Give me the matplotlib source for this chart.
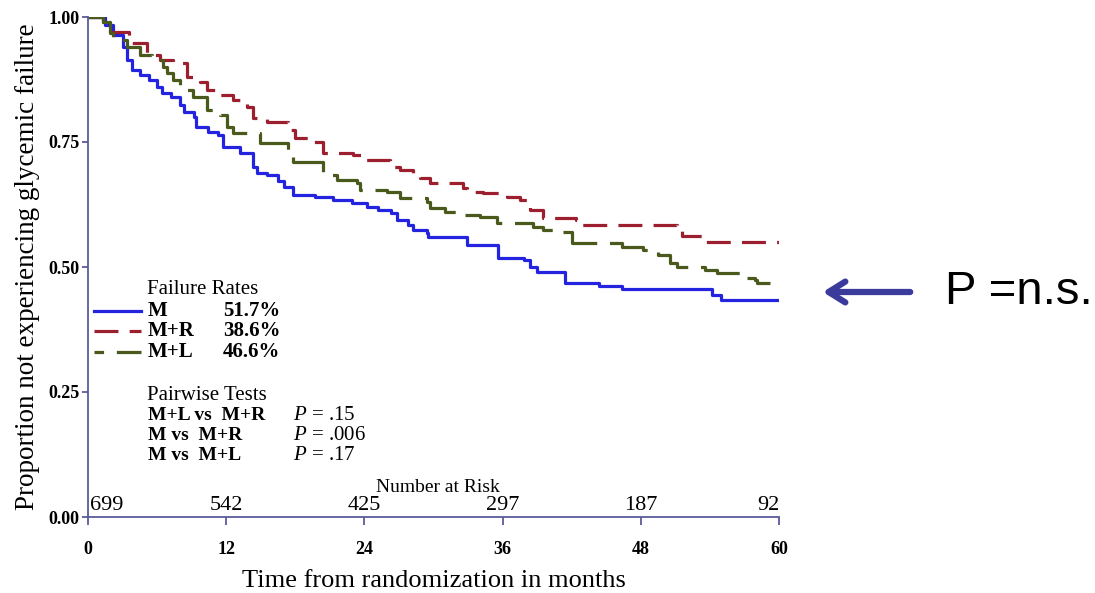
import matplotlib
matplotlib.use("Agg")
import matplotlib.pyplot as plt

plt.rcParams["mathtext.fontset"] = "custom"
plt.rcParams["mathtext.it"] = "Liberation Serif:italic"
plt.rcParams["mathtext.rm"] = "Liberation Serif"

# Kaplan-Meier step data (months, proportion)
m_t = [0, 1.5, 2.2, 3.0, 3.4, 3.8, 4.5, 5.3, 6.0, 6.4, 7.2, 8.0, 8.3, 9.2, 9.4, 10.4,
       11.3, 11.7, 13.2, 14.3, 14.7, 15.5, 16.5, 17.0, 17.8, 19.7, 21.3, 22.9, 24.2,
       25.2, 26.3, 26.8, 27.8, 28.2, 29.4, 29.5, 32.9, 35.6, 37.9, 38.4, 39.0, 41.4,
       44.4, 46.4, 54.2, 55.0, 60]
m_s = [1.0, 0.985, 0.965, 0.94, 0.915, 0.895, 0.885, 0.874, 0.86, 0.848, 0.84, 0.825,
       0.81, 0.80, 0.78, 0.77, 0.764, 0.74, 0.728, 0.70, 0.688, 0.684, 0.672, 0.66,
       0.644, 0.64, 0.634, 0.628, 0.62, 0.614, 0.608, 0.594, 0.585, 0.574, 0.568, 0.56,
       0.544, 0.518, 0.514, 0.50, 0.49, 0.468, 0.462, 0.456, 0.444, 0.434, 0.434]

mr_t = [0, 1.3, 1.9, 3.6, 5.1, 6.25, 7.4, 8.6, 9.7, 10.3, 11.5, 12.6, 13.8, 14.3, 15.5,
        17.4, 18.0, 19.1, 20.4, 23.0, 23.9, 26.2, 27.1, 28.2, 28.8, 29.7, 32.6, 32.9,
        34.3, 36.4, 37.5, 38.4, 39.5, 42.4, 42.5, 51.1, 51.6, 53.6, 60]
mr_s = [1.0, 0.99, 0.97, 0.948, 0.924, 0.914, 0.908, 0.88, 0.87, 0.854, 0.844, 0.834,
        0.82, 0.798, 0.79, 0.774, 0.758, 0.75, 0.728, 0.724, 0.714, 0.70, 0.694, 0.688,
        0.678, 0.668, 0.658, 0.65, 0.648, 0.64, 0.634, 0.614, 0.598, 0.594, 0.584, 0.574,
        0.562, 0.55, 0.55]

ml_t = [0, 1.3, 1.9, 2.2, 3.4, 4.5, 5.6, 6.5, 6.9, 7.4, 8.0, 9.1, 10.3, 11.5, 12.1, 12.6,
        14.9, 17.4, 17.8, 20.4, 21.6, 23.4, 23.6, 26.0, 27.1, 29.4, 29.7, 31.0, 32.0,
        34.0, 35.5, 38.6, 39.5, 41.2, 42.0, 46.4, 48.2, 49.5, 50.5, 51.1, 53.6, 54.6,
        56.6, 57.9, 58.1, 59.2]
ml_s = [1.0, 0.99, 0.968, 0.954, 0.94, 0.924, 0.914, 0.90, 0.888, 0.874, 0.854, 0.84,
        0.814, 0.804, 0.78, 0.768, 0.748, 0.724, 0.71, 0.684, 0.674, 0.668, 0.654, 0.65,
        0.638, 0.63, 0.618, 0.61, 0.604, 0.60, 0.588, 0.58, 0.574, 0.57, 0.548, 0.54,
        0.534, 0.524, 0.508, 0.50, 0.494, 0.488, 0.478, 0.474, 0.468, 0.468]

risk_t = [0, 12, 24, 36, 48, 60]
risk_n = ["699", "542", "425", "297", "187", "92"]

groups = ["M", "M+R", "M+L"]
rates = ["51.7%", "38.6%", "46.6%"]
tests = ["M+L vs  M+R", "M vs  M+R", "M vs  M+L"]
pvals = [".15", ".006", ".17"]

blue = "#2323e0"
red = "#9b1f2e"
green = "#4a5a1c"
axcol = "#5a5a9c"
serif = "Liberation Serif"

fig = plt.figure(figsize=(10.95, 5.93), dpi=100)
ax = fig.add_axes([88 / 1095, 1 - 517 / 593, 691 / 1095, 500 / 593])

ax.step(m_t, m_s, where="post", color=blue, lw=2.3)
ax.step(mr_t, mr_s, where="post", color=red, lw=2.3, dashes=(7.5, 3.5))
ax.step(ml_t, ml_s, where="post", color=green, lw=2.3, dashes=(14, 4))

ax.set_xlim(0, 60)
ax.set_ylim(0, 1)
for s in ["top", "right"]:
    ax.spines[s].set_visible(False)
for s in ["left", "bottom"]:
    ax.spines[s].set_color(axcol)
    ax.spines[s].set_linewidth(1.3)

ax.set_xticks([0, 12, 24, 36, 48, 60])
ax.set_yticks([0, 0.25, 0.5, 0.75, 1.0])
ax.set_yticklabels(["0.00", "0.25", "0.50", "0.75", "1.00"])
ax.tick_params(axis="both", colors=axcol, length=6, width=1.3, labelcolor="black")
ax.tick_params(axis="x", pad=11)
ax.tick_params(axis="y", pad=2, length=4)
for lab in ax.get_xticklabels() + ax.get_yticklabels():
    lab.set_family(serif)
    lab.set_fontweight("bold")
    lab.set_fontsize(13)

ax.set_xlabel("Time from randomization in months", family=serif, fontsize=19, labelpad=9)
ax.set_ylabel("Proportion not experiencing glycemic failure", family=serif, fontsize=19.5, labelpad=6)

# legend block
fs = 15
ax.text(5.1, 0.454, "Failure Rates", family=serif, fontsize=fs, va="center")
legend_y = [0.412, 0.372, 0.33]
styles = [dict(color=blue), dict(color=red, dashes=(7.5, 3.5)), dict(color=green, dashes=(3, 4, 14, 4))]
for g, r, y, st in zip(groups, rates, legend_y, styles):
    ax.plot([0.5, 4.6], [y, y], lw=2.3, **st)
    ax.text(5.2, y, g, family=serif, fontsize=fs, va="center", fontweight="bold")
    ax.text(11.7, y, r, family=serif, fontsize=fs, va="center", fontweight="bold")

ax.text(5.1, 0.244, "Pairwise Tests", family=serif, fontsize=fs, va="center")
test_y = [0.202, 0.162, 0.122]
for tx, p, y in zip(tests, pvals, test_y):
    ax.text(5.2, y, tx, family=serif, fontsize=fs - 1, va="center", fontweight="bold")
    ax.text(17.8, y, "$P$ = " + p, family=serif, fontsize=fs, va="center")

# number at risk
ax.text(30.4, 0.06, "Number at Risk", family=serif, fontsize=14, va="center", ha="center")
for t, n in zip(risk_t, risk_n):
    ha = "left" if t == 0 else ("right" if t == 60 else "center")
    ax.text(t + (0.2 if t == 0 else 0), 0.004, n, family=serif, fontsize=16, va="bottom", ha=ha)

# arrow and annotation
fig.patches.append(matplotlib.patches.FancyArrowPatch(
    (913 / 1095, 1 - 292 / 593), (820 / 1095, 1 - 292 / 593),
    transform=fig.transFigure, arrowstyle="->,head_length=8,head_width=5",
    color="#3b3b9c", lw=4.5, mutation_scale=1.5))
fig.text(945 / 1095, 1 - 292 / 593, "P =n.s.", family="Liberation Sans", fontsize=34, va="center")

fig.savefig("out.png", dpi=100)
